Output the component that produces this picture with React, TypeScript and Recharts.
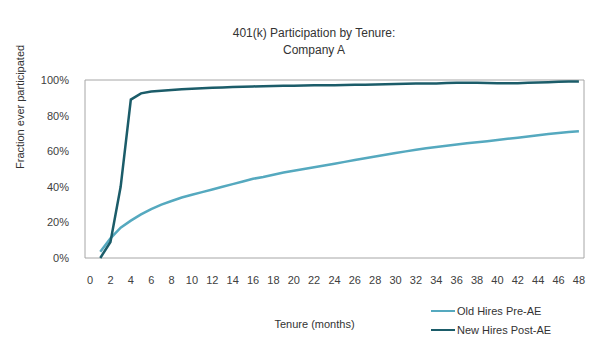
import React from 'react';
import { LineChart, Line, XAxis, YAxis, ReferenceArea } from 'recharts';

// tenure in months (1..48)
const months = [
  1, 2, 3, 4, 5, 6, 7, 8, 9, 10, 11, 12, 13, 14, 15, 16, 17, 18, 19, 20, 21, 22, 23, 24,
  25, 26, 27, 28, 29, 30, 31, 32, 33, 34, 35, 36, 37, 38, 39, 40, 41, 42, 43, 44, 45, 46, 47, 48,
];

// fraction ever participated
const oldHiresPreAE = [
  0.035, 0.11, 0.17, 0.21, 0.245, 0.275, 0.3, 0.32, 0.34, 0.355, 0.37, 0.385,
  0.4, 0.415, 0.43, 0.445, 0.455, 0.468, 0.48, 0.49, 0.5, 0.51, 0.52, 0.53,
  0.54, 0.55, 0.56, 0.57, 0.58, 0.59, 0.599, 0.608, 0.616, 0.624, 0.631, 0.638,
  0.645, 0.65, 0.656, 0.663, 0.67, 0.676, 0.683, 0.69, 0.697, 0.702, 0.708, 0.712,
];

const newHiresPostAE = [
  0.0, 0.09, 0.4, 0.89, 0.925, 0.935, 0.94, 0.944, 0.948, 0.951, 0.953, 0.956,
  0.958, 0.96, 0.962, 0.964, 0.965, 0.966, 0.967, 0.968, 0.969, 0.97, 0.97, 0.971,
  0.972, 0.973, 0.974, 0.975, 0.976, 0.978, 0.979, 0.98, 0.98, 0.981, 0.983, 0.985,
  0.985, 0.984, 0.983, 0.982, 0.982, 0.982, 0.984, 0.986, 0.988, 0.99, 0.991, 0.992,
];

const xTicks = [0, 2, 4, 6, 8, 10, 12, 14, 16, 18, 20, 22, 24, 26, 28, 30, 32, 34, 36, 38, 40, 42, 44, 46, 48];
const yTicks = [0, 0.2, 0.4, 0.6, 0.8, 1];

const OLD_COLOR = '#55a9bf';
const NEW_COLOR = '#1b5c69';

const seriesInfo = [
  { key: 'oldHires', label: 'Old Hires Pre-AE', color: OLD_COLOR },
  { key: 'newHires', label: 'New Hires Post-AE', color: NEW_COLOR },
];

const data = months.map((m, i) => ({
  month: m,
  oldHires: oldHiresPreAE[i],
  newHires: newHiresPostAE[i],
}));

const font = '"Liberation Sans", Arial, sans-serif';

const LegendBox = () => (
  <div style={{ position: 'absolute', left: 431, top: 301, fontFamily: font, fontSize: 11, color: '#333' }}>
    {seriesInfo.map((it) => (
      <div key={it.label} style={{ display: 'flex', alignItems: 'center', height: 19 }}>
        <span style={{ display: 'inline-block', width: 24, height: 2, background: it.color, marginRight: 2 }} />
        <span>{it.label}</span>
      </div>
    ))}
  </div>
);

export default function App() {
  return (
    <div style={{ position: 'absolute', left: 0, top: 0, width: 610, height: 356, background: '#fff', fontFamily: font }}>
      <div style={{ position: 'absolute', left: 164, width: 300, top: 25, textAlign: 'center', fontSize: 12, lineHeight: '17px', color: '#333' }}>
        401(k) Participation by Tenure:
        <br />
        Company A
      </div>
      <LineChart width={610} height={356} data={data} margin={{ top: 80, right: 26, bottom: 0, left: 0 }}>
        <XAxis
          dataKey="month"
          type="number"
          domain={[-0.5, 48.5]}
          ticks={xTicks}
          interval={0}
          height={98}
          axisLine={false}
          tickLine={false}
          tickMargin={12}
          tick={{ fontSize: 11, fill: '#404040', fontFamily: font }}
          label={{ value: 'Tenure (months)', position: 'insideBottom', offset: 28, dx: -20, fontSize: 11, fill: '#333', fontFamily: font }}
        />
        <YAxis
          type="number"
          domain={[0, 1]}
          ticks={yTicks}
          width={85}
          axisLine={false}
          tickLine={false}
          tickMargin={10}
          tickFormatter={(v: number) => `${Math.round(v * 100)}%`}
          tick={{ fontSize: 11, fill: '#404040', fontFamily: font }}
          label={{ value: 'Fraction ever participated', angle: -90, position: 'insideLeft', offset: 20, fontSize: 11, fill: '#333', fontFamily: font }}
        />
        <ReferenceArea x1={-0.5} x2={48.5} y1={0} y2={1} fill="none" stroke="#a6a6a6" strokeWidth={1} />
        {seriesInfo.map((s) => (
          <Line key={s.key} type="linear" dataKey={s.key} name={s.label} stroke={s.color} strokeWidth={2.5} dot={false} isAnimationActive={false} />
        ))}
      </LineChart>
      <LegendBox />
    </div>
  );
}
